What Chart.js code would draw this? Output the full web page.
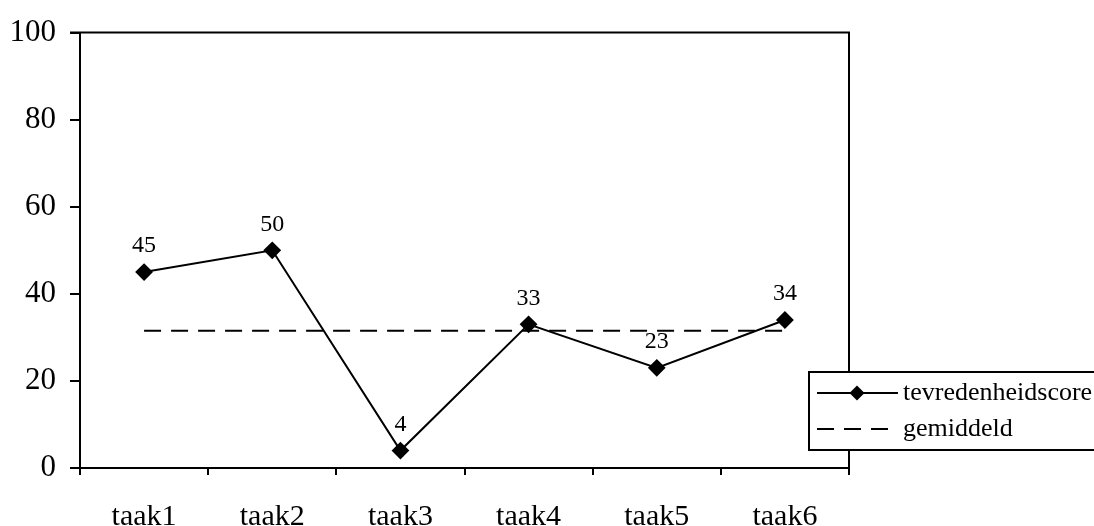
<!DOCTYPE html>
<html>
<head>
<meta charset="utf-8">
<script src="https://cdn.jsdelivr.net/npm/chart.js@4.4.1/dist/chart.umd.min.js"></script>
<style>
  html, body { margin: 0; padding: 0; background: #fff; }
  #wrap { width: 1094px; height: 526px; }
</style>
</head>
<body>
<div id="wrap"><canvas id="chart_taken"></canvas></div>
<script>
const taken = ['taak1', 'taak2', 'taak3', 'taak4', 'taak5', 'taak6'];
const tevredenheidscore = [45, 50, 4, 33, 23, 34];
const gemiddeld = [31.5, 31.5, 31.5, 31.5, 31.5, 31.5];
const yTicks = [0, 20, 40, 60, 80, 100];

const SERIF = "'Liberation Serif', 'Times New Roman', serif";
Chart.defaults.font.family = SERIF;
Chart.defaults.color = '#000';

// top + right edge of the plot box
const framePlugin = {
    id: 'frame',
    afterDatasetsDraw(chart) {
        const { ctx, chartArea: a } = chart;
        ctx.save();
        ctx.strokeStyle = '#000';
        ctx.lineWidth = 2;
        ctx.beginPath();
        ctx.moveTo(a.left - 10, a.top);
        ctx.lineTo(a.right, a.top);
        ctx.lineTo(a.right, a.bottom);
        ctx.stroke();
        ctx.restore();
    }
};

// numbers above the points of the first series
const valueLabels = {
    id: 'valueLabels',
    afterDatasetsDraw(chart) {
        const { ctx } = chart;
        const meta = chart.getDatasetMeta(0);
        ctx.save();
        ctx.font = '24px ' + SERIF;
        ctx.fillStyle = '#000';
        ctx.textAlign = 'center';
        ctx.textBaseline = 'middle';
        meta.data.forEach((pt, i) => {
            ctx.fillText(String(chart.data.datasets[0].data[i]), pt.x, pt.y - 26);
        });
        ctx.restore();
    }
};

const diamond = (ctx, x, y, r) => {
    ctx.beginPath();
    ctx.moveTo(x - r, y);
    ctx.lineTo(x, y - r);
    ctx.lineTo(x + r, y);
    ctx.lineTo(x, y + r);
    ctx.closePath();
    ctx.fill();
};

// boxed legend sitting over the lower right corner
const boxLegend = {
    id: 'boxLegend',
    afterDraw(chart) {
        const { ctx } = chart;
        const ds = chart.data.datasets;
        const bx = 809, by = 372, bw = 300, bh = 78;
        ctx.save();
        ctx.fillStyle = '#fff';
        ctx.fillRect(bx, by, bw, bh);
        ctx.strokeStyle = '#000';
        ctx.lineWidth = 2;
        ctx.strokeRect(bx, by, bw, bh);

        ctx.fillStyle = '#000';
        ctx.lineWidth = 2;
        ctx.beginPath();
        ctx.moveTo(817, 393);
        ctx.lineTo(898, 393);
        ctx.stroke();
        diamond(ctx, 857, 393, 7.5);

        ctx.setLineDash([17, 10]);
        ctx.beginPath();
        ctx.moveTo(817, 429);
        ctx.lineTo(890, 429);
        ctx.stroke();
        ctx.setLineDash([]);

        ctx.font = '26px ' + SERIF;
        ctx.textAlign = 'left';
        ctx.textBaseline = 'middle';
        ctx.fillText(ds[0].label, 903, 393);
        ctx.fillText(ds[1].label, 903, 429);
        ctx.restore();
    }
};

const data = {
    labels: taken,
    datasets: [{
        label: 'tevredenheidscore',
        data: tevredenheidscore,
        borderColor: '#000',
        backgroundColor: '#000',
        borderWidth: 2,
        pointStyle: 'rectRot',
        pointRadius: 7.5,
        pointHoverRadius: 7.5,
        tension: 0
    }, {
        label: 'gemiddeld',
        data: gemiddeld,
        borderColor: '#000',
        borderWidth: 2,
        borderDash: [17, 10],
        pointRadius: 0,
        tension: 0
    }]
};

const options = {
    responsive: true,
    maintainAspectRatio: false,
    animation: false,
    layout: { padding: { top: 28, right: 245, left: 0, bottom: 0 } },
    plugins: {
        legend: { display: false },
        tooltip: { enabled: false }
    },
    scales: {
        x: {
            offset: true,
            grid: { offset: true, drawOnChartArea: false, drawTicks: true, tickLength: 7, color: '#000', lineWidth: 2 },
            border: { display: true, color: '#000', width: 2 },
            ticks: { font: { size: 30 }, padding: 24, maxRotation: 0 },
            afterFit: (scale) => { scale.height = 58; }
        },
        y: {
            min: 0,
            max: 100,
            afterBuildTicks: (scale) => { scale.ticks = yTicks.map(v => ({ value: v })); },
            grid: { drawOnChartArea: false, drawTicks: true, tickLength: 10, color: '#000', lineWidth: 2 },
            border: { display: true, color: '#000', width: 2 },
            ticks: { font: { size: 31 }, padding: 14 },
            afterFit: (scale) => { scale.width = 80; }
        }
    }
};

new Chart('chart_taken', { type: 'line', data, options, plugins: [framePlugin, valueLabels, boxLegend] });
</script>
</body>
</html>
